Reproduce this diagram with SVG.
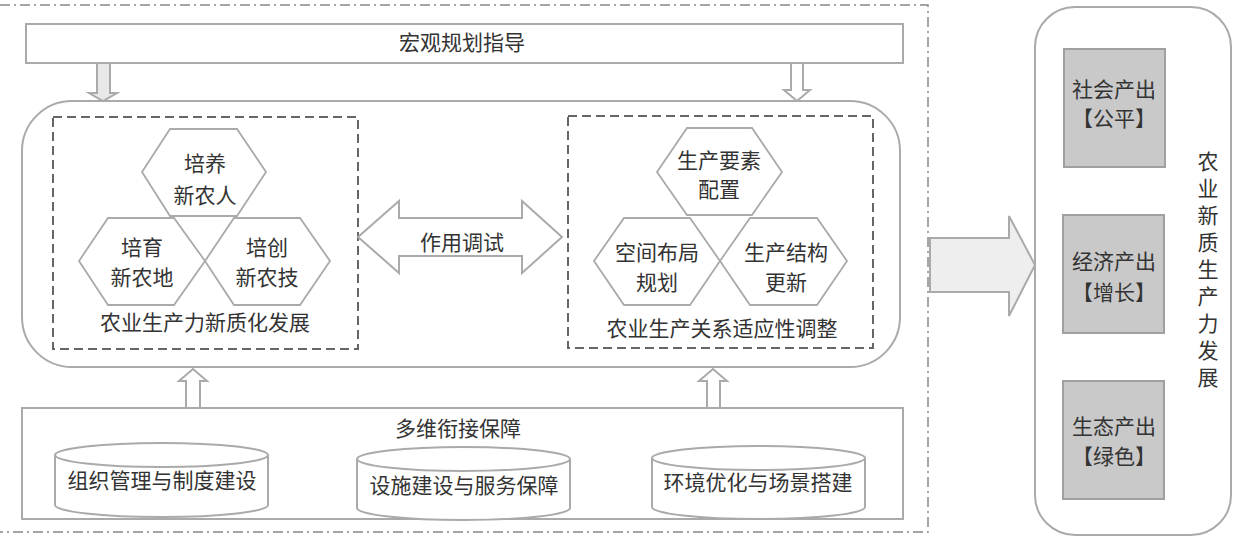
<svg xmlns="http://www.w3.org/2000/svg" width="1233" height="537" viewBox="0 0 1233 537">
<style>
text{font-family:"Noto Sans CJK SC","Noto Sans",sans-serif;font-size:21px;fill:#333;text-anchor:middle}
.sh{fill:#fff;stroke:#aaa;stroke-width:2}
.hex{fill:none;stroke:#aaa;stroke-width:1.8}
.dash{fill:none;stroke:#666;stroke-width:2;stroke-dasharray:9 5}
.frame{fill:none;stroke:#888;stroke-width:1.5;stroke-dasharray:10 4 2 4}
.arr{fill:#fff;stroke:#aaa;stroke-width:2}
.out{fill:#c9c9c9;stroke:#a0a0a0;stroke-width:2}
</style>
<rect width="1233" height="537" fill="#fff"/>
<path class="frame" d="M0,5 H928 V532 H0"/>
<g id="macro"><rect class="sh" x="26" y="24" width="877" height="39"/><text x="462" y="50">宏观规划指导</text></g>
<g id="core"><rect class="sh" x="22" y="101" width="878" height="266" rx="50"/></g>
<g id="productivity">
<rect class="dash" x="53" y="117" width="305" height="232"/>
<polygon class="hex" points="142,172 170,129 237,129 266,172 237,216 170,216"/>
<polygon class="hex" points="79,261 108,218 174,218 205,261 174,305 108,305"/>
<polygon class="hex" points="205,261 234,218 300,218 330,261 300,305 234,305"/>
<text x="205" y="171">培养</text><text x="205" y="203">新农人</text>
<text x="142" y="255">培育</text><text x="142" y="285">新农地</text>
<text x="267" y="255">培创</text><text x="267" y="285">新农技</text>
<text x="205" y="330">农业生产力新质化发展</text>
</g>
<g id="relations">
<rect class="dash" x="568" y="116" width="305" height="232"/>
<polygon class="hex" points="657,172 687,128 752,128 782,172 752,215 687,215"/>
<polygon class="hex" points="594,261 624,218 690,218 720,261 690,305 624,305"/>
<polygon class="hex" points="720,261 750,218 817,218 847,261 817,305 750,305"/>
<text x="719" y="168">生产要素</text><text x="719" y="197">配置</text>
<text x="657" y="260">空间布局</text><text x="657" y="290">规划</text>
<text x="786" y="260">生产结构</text><text x="786" y="290">更新</text>
<text x="722" y="336">农业生产关系适应性调整</text>
</g>
<g id="support">
<rect class="sh" x="22" y="408" width="881" height="111"/>
<text x="458" y="436">多维衔接保障</text>
<path class="sh" d="M55,455 V505 A106.5,12 0 0 0 268,505 V455"/><ellipse class="sh" cx="161.5" cy="455" rx="106.5" ry="12"/>
<text x="162" y="488">组织管理与制度建设</text>
<path class="sh" d="M357,459 V508 A106.5,12 0 0 0 570,508 V459"/><ellipse class="sh" cx="463.5" cy="459" rx="106.5" ry="12"/>
<text x="464" y="493">设施建设与服务保障</text>
<path class="sh" d="M652,458 V507 A106.5,12 0 0 0 865,507 V458"/><ellipse class="sh" cx="758.5" cy="458" rx="106.5" ry="12"/>
<text x="758" y="490">环境优化与场景搭建</text>
</g>
<g id="connectors">
<polygon class="arr" style="fill:#e8e8e8" points="97,63 110,63 110,93 117,93 103,101 89,93 97,93"/>
<polygon class="arr" points="791,63 803,63 803,90 810,90 797,101 784,90 791,90"/>
<polygon class="arr" points="193,369 207,381 200,381 200,408 186,408 186,381 179,381"/>
<polygon class="arr" points="713,369 727,381 720,381 720,408 707,408 707,381 699,381"/>
<polygon class="arr" points="358,237 399,201 399,218 522,218 522,201 562,237 522,273 522,256 399,256 399,273"/>
<polygon class="arr" style="fill:#eeeeee" points="930,238 1009,238 1009,216 1035,265 1009,316 1009,292 930,292"/>
<text x="462" y="250">作用调试</text>
</g>
<g id="outputs">
<rect class="sh" x="1035" y="7" width="196" height="528" rx="40"/>
<rect class="out" x="1064" y="49" width="101" height="118"/>
<text x="1114" y="97">社会产出</text><text x="1114" y="126">【公平】</text>
<rect class="out" x="1063" y="215" width="101" height="118"/>
<text x="1114" y="269">经济产出</text><text x="1114" y="300">【增长】</text>
<rect class="out" x="1063" y="381" width="101" height="118"/>
<text x="1114" y="434">生态产出</text><text x="1114" y="464">【绿色】</text>
<text id="vertical-label" x="1208" y="272" writing-mode="vertical-rl" style="letter-spacing:6px">农业新质生产力发展</text>
</g>
</svg>
